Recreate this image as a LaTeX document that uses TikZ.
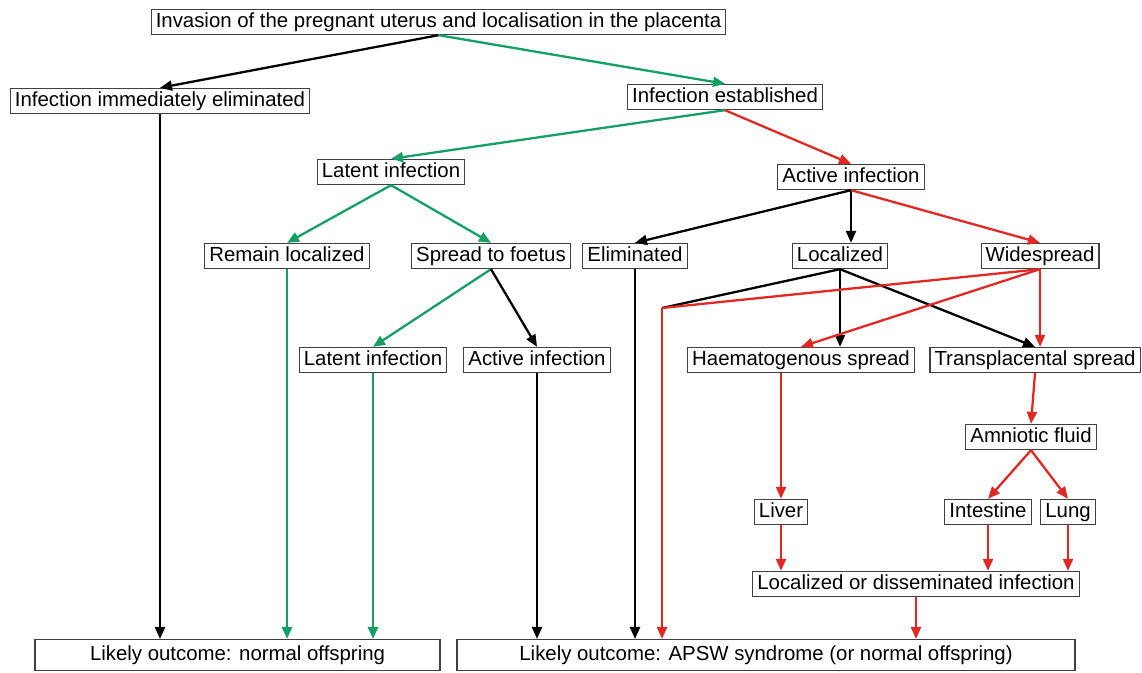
\documentclass[tikz,border=0pt]{standalone}
\usepackage{fontspec}
\setmainfont{Liberation Sans}
\usepackage{tikz}
\usetikzlibrary{arrows.meta}
\definecolor{pathgreen}{RGB}{20,160,100}
\definecolor{pathred}{RGB}{225,40,35}
\tikzstyle{stage}=[rectangle,draw=black!75,line width=0.6pt,fill=white,font=\fontsize{11.6}{13}\selectfont,inner xsep=2.6pt,inner ysep=1.6pt,text height=8.6pt,text depth=2.6pt]
\tikzstyle{outcome}=[stage,minimum height=0.62cm]
\tikzstyle{blackarrow}=[line width=1.3pt,black,-{Triangle[length=0.24cm,width=0.2cm]}]
\tikzstyle{greenarrow}=[line width=1.3pt,pathgreen,-{Triangle[length=0.24cm,width=0.2cm]}]
\tikzstyle{redarrow}=[line width=1.3pt,pathred,-{Triangle[length=0.24cm,width=0.2cm]}]
\tikzstyle{blackline}=[line width=1.3pt,black]
\tikzstyle{redline}=[line width=1.3pt,pathred]

\begin{document}
\begin{tikzpicture}
    \useasboundingbox (0,0) rectangle (22.84,-13.46);

    \node (invasion) at (8.77, -0.44) [stage] {Invasion of the pregnant uterus and localisation in the placenta};
    \node (immediate) at (3.20, -2.02) [stage] {Infection immediately eliminated};
    \node (established) at (14.50, -1.94) [stage] {Infection established};
    \node (latent) at (7.82, -3.44) [stage] {Latent infection};
    \node (active) at (17.02, -3.54) [stage] {Active infection};
    \node (remain) at (5.74, -5.12) [stage] {Remain localized};
    \node (spread) at (9.82, -5.12) [stage] {Spread to foetus};
    \node (eliminated) at (12.70, -5.12) [stage] {Eliminated};
    \node (localized) at (16.80, -5.12) [stage] {Localized};
    \node (widespread) at (20.80, -5.12) [stage] {Widespread};
    \node (foetlatent) at (7.46, -7.20) [stage] {Latent infection};
    \node (foetactive) at (10.74, -7.20) [stage] {Active infection};
    \node (haemato) at (16.02, -7.20) [stage] {Haematogenous spread};
    \node (transpl) at (20.70, -7.20) [stage] {Transplacental spread};
    \node (amniotic) at (20.62, -8.74) [stage] {Amniotic fluid};
    \node (liver) at (15.62, -10.24) [stage] {Liver};
    \node (intestine) at (19.76, -10.24) [stage] {Intestine};
    \node (lung) at (21.36, -10.24) [stage] {Lung};
    \node (disseminated) at (18.32, -11.68) [stage] {Localized or disseminated infection};
    \node (normal) at (4.75, -13.10) [outcome,minimum width=8.10cm] {Likely outcome: normal offspring};
    \node (apsw) at (15.32, -13.10) [outcome,minimum width=12.36cm] {Likely outcome: APSW syndrome (or normal offspring)};
    \coordinate (merge) at (13.24, -6.16);

    \draw (invasion.south) -- (immediate.north) [blackarrow];
    \draw (invasion.south) -- (established.north) [greenarrow];

    \draw (established.south) -- (latent.north) [greenarrow];
    \draw (established.south) -- (active.north) [redarrow];

    \draw (latent.south) -- (remain.north) [greenarrow];
    \draw (latent.south) -- (spread.north) [greenarrow];

    \draw (active.south) -- (eliminated.north) [blackarrow];
    \draw (active.south) -- (active.south |- localized.north) [blackarrow];
    \draw (active.south) -- (widespread.north) [redarrow];

    \draw (spread.south) -- (foetlatent.north) [greenarrow];
    \draw (spread.south) -- (foetactive.north) [blackarrow];

    \draw (localized.south) -- (merge) [blackline];
    \draw (localized.south) -- (localized.south |- haemato.north) [blackarrow];
    \draw (localized.south) -- (transpl.north) [blackarrow];

    \draw (widespread.south) -- (merge) [redline];
    \draw (widespread.south) -- (haemato.north) [redarrow];
    \draw (widespread.south) -- (widespread.south |- transpl.north) [redarrow];

    \draw (liver.north |- haemato.south) -- (liver.north) [redarrow];
    \draw (transpl.south) -- (amniotic.north) [redarrow];
    \draw (amniotic.south) -- (intestine.north) [redarrow];
    \draw (amniotic.south) -- (lung.north) [redarrow];

    \draw (liver.south) -- (liver.south |- disseminated.north) [redarrow];
    \draw (intestine.south) -- (intestine.south |- disseminated.north) [redarrow];
    \draw (lung.south) -- (lung.south |- disseminated.north) [redarrow];

    \draw (immediate.south) -- (immediate.south |- normal.north) [blackarrow];
    \draw (remain.south) -- (remain.south |- normal.north) [greenarrow];
    \draw (foetlatent.south) -- (foetlatent.south |- normal.north) [greenarrow];

    \draw (foetactive.south) -- (foetactive.south |- apsw.north) [blackarrow];
    \draw (eliminated.south) -- (eliminated.south |- apsw.north) [blackarrow];
    \draw (merge) -- (merge |- apsw.north) [redarrow];
    \draw (disseminated.south) -- (disseminated.south |- apsw.north) [redarrow];
  \end{tikzpicture}
\end{document}
